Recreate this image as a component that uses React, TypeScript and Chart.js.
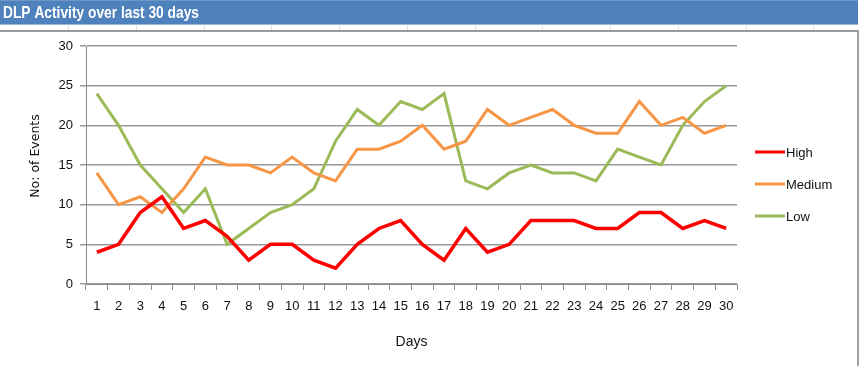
import React, { useEffect, useRef } from "react";
import { Chart, registerables } from "chart.js";

Chart.register(...registerables);

const days: string[] = Array.from({ length: 30 }, (_, i) => String(i + 1));
const high: number[] = [4, 5, 9, 11, 7, 8, 6, 3, 5, 5, 3, 2, 5, 7, 8, 5, 3, 7, 4, 5, 8, 8, 8, 7, 7, 9, 9, 7, 8, 7];
const medium: number[] = [14, 10, 11, 9, 12, 16, 15, 15, 14, 16, 14, 13, 17, 17, 18, 20, 17, 18, 22, 20, 21, 22, 20, 19, 19, 23, 20, 21, 19, 20];
const low: number[] = [24, 20, 15, 12, 9, 12, 5, 7, 9, 10, 12, 18, 22, 20, 23, 22, 24, 13, 12, 14, 15, 14, 14, 13, 17, 16, 15, 20, 23, 25];
const seriesNames: string[] = ["High", "Medium", "Low"];
const yTicks: number[] = [0, 5, 10, 15, 20, 25, 30];

const TITLE = "DLP Activity over last 30 days";
const Y_TITLE = "No: of Events";
const NARROW = "'Liberation Sans Narrow', 'Liberation Sans', Arial, sans-serif";

const decorPlugin = {
  id: "decor",
  beforeDraw(chart: any) {
    const { ctx, width, height } = chart;
    ctx.save();
    ctx.fillStyle = "#ffffff";
    ctx.fillRect(0, 0, width, height);
    // title bar
    ctx.fillStyle = "#4F81BD";
    ctx.fillRect(0, 1, 858, 23);
    ctx.fillStyle = "#6E97CB";
    ctx.fillRect(0, 0, 858, 1);
    ctx.fillStyle = "#9DB8DC";
    ctx.fillRect(0, 24, 858, 1);
    // faint cell lines
    ctx.fillStyle = "#E4E4E4";
    for (let x = 68; x < 858; x += 67.75) {
      ctx.fillRect(Math.round(x), 25, 1, 5);
    }
    // grey separator and right border
    ctx.fillStyle = "#9A9A9A";
    ctx.fillRect(0, 30, 859, 2);
    ctx.fillStyle = "#A0A0A0";
    ctx.fillRect(857, 30, 2, height - 30);
    // title text (condensed like Arial Narrow)
    ctx.fillStyle = "#ffffff";
    ctx.font = "bold 17px " + NARROW;
    ctx.textAlign = "left";
    ctx.textBaseline = "middle";
    const w = ctx.measureText(TITLE).width;
    const sx = Math.min(1, 196 / w);
    ctx.save();
    ctx.translate(3, 13);
    ctx.scale(sx, 1);
    ctx.fillText(TITLE, 0, 0);
    ctx.restore();
    // y axis title
    ctx.fillStyle = "#111111";
    ctx.font = "12.5px 'DejaVu Sans', Verdana, sans-serif";
    ctx.textAlign = "center";
    ctx.textBaseline = "middle";
    ctx.translate(36, 156);
    ctx.rotate(-Math.PI / 2);
    ctx.fillText(Y_TITLE, 0, 0);
    ctx.restore();
  },
  afterDraw(chart: any) {
    const { ctx } = chart;
    ctx.save();
    const ys = [152, 184, 216];
    chart.data.datasets.forEach((ds: any, i: number) => {
      const y = ys[i];
      ctx.strokeStyle = ds.borderColor;
      ctx.lineWidth = 3;
      ctx.beginPath();
      ctx.moveTo(755, y);
      ctx.lineTo(785, y);
      ctx.stroke();
      ctx.fillStyle = "#111111";
      ctx.font = "13px " + NARROW;
      ctx.textAlign = "left";
      ctx.textBaseline = "middle";
      ctx.fillText(ds.label, 786, y + 1);
    });
    ctx.restore();
  },
};

export default function App() {
  const ref = useRef<HTMLCanvasElement | null>(null);
  useEffect(() => {
    document.body.style.margin = "0";
    if (!ref.current) return;
    const chart = new Chart(ref.current, {
      type: "line",
      data: {
        labels: days,
        datasets: [
          { label: seriesNames[0], data: high, borderColor: "#FF0000", backgroundColor: "#FF0000", borderWidth: 3.5 },
          { label: seriesNames[1], data: medium, borderColor: "#F79646", backgroundColor: "#F79646", borderWidth: 3 },
          { label: seriesNames[2], data: low, borderColor: "#9BBB59", backgroundColor: "#9BBB59", borderWidth: 3 },
        ],
      },
      options: {
        animation: false,
        responsive: false,
        devicePixelRatio: 1,
        layout: { padding: { left: 0, top: 46, right: 126, bottom: 0 } },
        elements: { point: { radius: 0, hoverRadius: 0 }, line: { tension: 0 } },
        plugins: {
          legend: { display: false },
          title: { display: false },
          tooltip: { enabled: false },
        },
        scales: {
          x: {
            type: "category",
            offset: true,
            grid: {
              offset: true,
              drawOnChartArea: false,
              drawTicks: true,
              tickLength: 6,
              color: "#8C8C8C",
            },
            border: { color: "#8C8C8C", width: 1 },
            ticks: {
              color: "#111111",
              font: { family: NARROW, size: 13 },
              padding: 9,
              maxRotation: 0,
              autoSkip: false,
            },
            title: {
              display: true,
              text: "Days",
              color: "#111111",
              font: { family: NARROW, size: 14 },
              padding: { top: 4, bottom: 15 },
            },
            afterFit: (s: any) => {
              s.height = 82;
            },
          },
          y: {
            min: 0,
            max: 30,
            afterBuildTicks: (s: any) => {
              s.ticks = yTicks.map((v) => ({ value: v }));
            },
            grid: {
              color: "#9A9A9A",
              lineWidth: 1.5,
              tickLength: 6,
              drawTicks: true,
            },
            border: { color: "#8C8C8C", width: 1 },
            ticks: {
              color: "#111111",
              font: { family: NARROW, size: 13 },
              padding: 7,
            },
            title: { display: false },
            afterFit: (s: any) => {
              s.width = 86;
            },
          },
        },
      },
      plugins: [decorPlugin],
    });
    return () => chart.destroy();
  }, []);
  return <canvas ref={ref} width={863} height={366} style={{ display: "block" }} />;
}
